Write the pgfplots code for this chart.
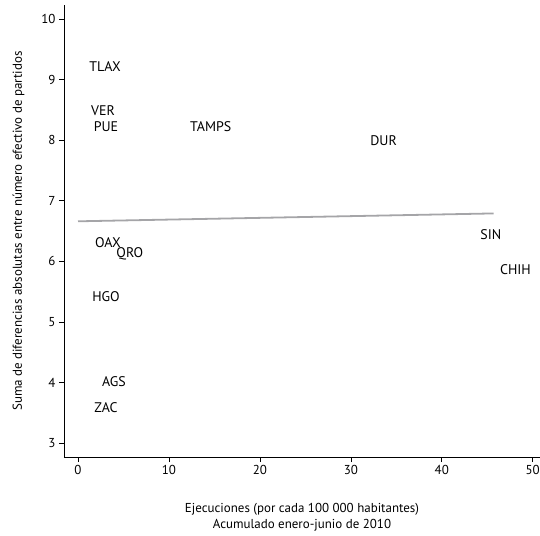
\documentclass[border=0pt]{standalone}
\usepackage{pgfplots}
\pgfplotsset{compat=1.18}
\usepackage{fontspec}
\setmainfont{PT Sans}

\begin{document}
\begin{tikzpicture}
\useasboundingbox (-64bp,-79bp) rectangle (476bp,457bp);
\begin{axis}[
  scale only axis,
  width=476bp, height=452bp,
  xmin=-1.54, xmax=50.8,
  ymin=2.77, ymax=10.23,
  axis lines=left,
  axis line style={-, line width=0.8pt},
  tick align=outside,
  major tick length=5bp,
  tick style={line width=0.6pt, black},
  xtick={0,10,20,30,40,50},
  ytick={3,4,5,6,7,8,9,10},
  font=\fontsize{13}{15}\selectfont,
  /pgf/number format/assume math mode=true,
  xlabel={\shortstack{Ejecuciones (por cada 100 000 habitantes)\\Acumulado enero-junio de 2010}},
  ylabel={Suma de diferencias absolutas entre número efectivo de partidos},
  xlabel style={yshift=-22bp},
  ylabel style={yshift=10bp},
  clip=false,
]
\addplot[color={rgb,255:red,165;green,165;blue,168}, line width=1.8pt] coordinates {(0,6.66) (45.7,6.79)};
\addplot[draw=none, mark=none, nodes near coords, point meta=explicit symbolic,
  every node near coord/.append style={anchor=center, text=black, font=\fontsize{14}{15}\selectfont}]
  table[meta=label] {
x y label
2.97 9.22 TLAX
2.75 8.48 VER
3.08 8.22 PUE
14.6 8.22 TAMPS
33.6 7.99 DUR
45.4 6.44 SIN
48.1 5.87 CHIH
3.3 6.31 OAX
5.7 6.13 QRO
3.08 5.41 HGO
3.96 4.01 AGS
3.08 3.58 ZAC
};
\end{axis}
\end{tikzpicture}
\end{document}
